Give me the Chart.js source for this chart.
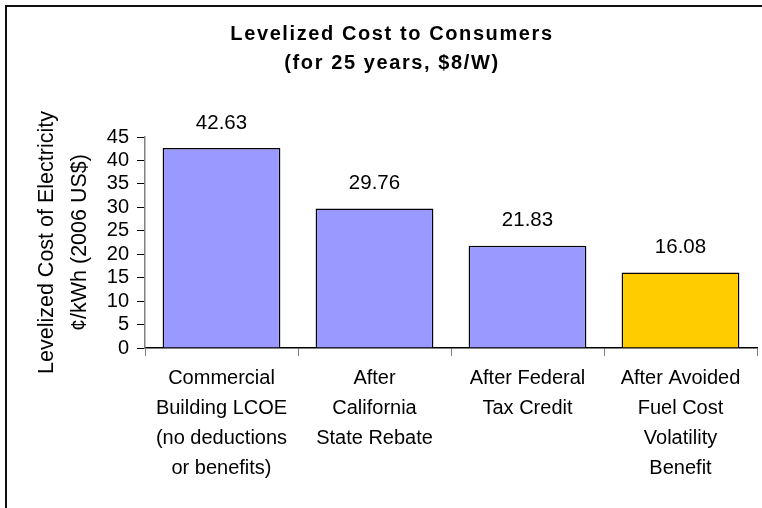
<!DOCTYPE html>
<html>
<head>
<meta charset="utf-8">
<script src="https://cdn.jsdelivr.net/npm/chart.js@4.4.1/dist/chart.umd.min.js"></script>
<style>
  html, body { margin: 0; padding: 0; background: #fff; overflow: hidden; }
  #wrap { position: relative; width: 762px; height: 508px; }
  #frame { position: absolute; left: 5px; top: 5px; width: 800px; height: 600px; border: 2px solid #111; }
  #lcoeChart { position: absolute; left: 0; top: 0; }
</style>
</head>
<body>
<div id="wrap">
  <div id="frame"></div>
  <canvas id="lcoeChart" width="762" height="508"></canvas>
</div>
<script>
// ---------- DATA ----------
const categories = [
  ["Commercial", "Building LCOE", "(no deductions", "or benefits)"],
  ["After", "California", "State Rebate"],
  ["After Federal", "Tax Credit"],
  ["After Avoided", "Fuel Cost", "Volatility", "Benefit"]
];
const costValues = [42.63, 29.76, 21.83, 16.08];
const barColors = ["#9999FF", "#9999FF", "#9999FF", "#FFCC00"];
const yTicks = [0, 5, 10, 15, 20, 25, 30, 35, 40, 45];
const titleLines = ["Levelized Cost to Consumers", "(for 25 years, $8/W)"];
const yTitle = ["Levelized Cost of Electricity", "\u00A2/kWh (2006 US$)"];

const FONT = "'Liberation Sans', Arial, sans-serif";

// ---------- TITLE (Excel-style spaced bold text) ----------
const spacedTitle = {
  id: "spacedTitle",
  afterDraw(chart) {
    const ctx = chart.ctx;
    ctx.save();
    ctx.font = "bold 20px " + FONT;
    ctx.fillStyle = "#000";
    ctx.textAlign = "center";
    ctx.textBaseline = "middle";
    if ("letterSpacing" in ctx) ctx.letterSpacing = "1.6px";
    titleLines.forEach((line, i) => ctx.fillText(line, 392, 34 + i * 29));
    ctx.restore();
  }
};

// ---------- VALUE LABELS ABOVE BARS ----------
const valueLabels = {
  id: "valueLabels",
  afterDatasetsDraw(chart) {
    const ctx = chart.ctx;
    const meta = chart.getDatasetMeta(0);
    ctx.save();
    ctx.font = "20.5px " + FONT;
    ctx.fillStyle = "#000";
    ctx.textAlign = "center";
    ctx.textBaseline = "middle";
    meta.data.forEach((bar, i) => {
      ctx.fillText(costValues[i].toFixed(2), bar.x, bar.y - 25);
    });
    ctx.restore();
  }
};

// ---------- CHART ----------
new Chart(document.getElementById("lcoeChart"), {
  type: "bar",
  data: {
    labels: categories,
    datasets: [{
      data: costValues,
      backgroundColor: barColors,
      borderColor: "#000",
      borderWidth: 1.5,
      barPercentage: 0.77,
      categoryPercentage: 1
    }]
  },
  options: {
    responsive: false,
    animation: false,
    layout: { padding: { top: 137, right: 5, bottom: 0, left: 0 } },
    plugins: {
      legend: { display: false },
      title: { display: false },
      tooltip: { enabled: false }
    },
    scales: {
      x: {
        offset: true,
        grid: { offset: true, drawOnChartArea: false, drawTicks: true, tickLength: 8, color: "#808080" },
        border: { display: true, color: "#000", width: 1.5 },
        ticks: {
          color: "#000",
          font: { family: FONT, size: 20, lineHeight: 1.5 },
          padding: 7,
          maxRotation: 0,
          autoSkip: false
        },
        afterFit: s => { s.height = 160; }
      },
      y: {
        min: 0,
        max: 45,
        afterBuildTicks: s => { s.ticks = yTicks.map(v => ({ value: v })); },
        grid: { drawOnChartArea: false, drawTicks: true, tickLength: 8, color: "#000" },
        border: { display: true, color: "#808080", width: 1.5 },
        ticks: { color: "#000", font: { family: FONT, size: 20 }, padding: 8, autoSkip: false },
        title: {
          display: true,
          text: yTitle,
          color: "#000",
          font: { family: FONT, size: 21.5, lineHeight: 1.535 },
          padding: { top: 30.5, bottom: 0 }
        },
        afterFit: s => { s.width = 145; }
      }
    }
  },
  plugins: [spacedTitle, valueLabels]
});
</script>
</body>
</html>
